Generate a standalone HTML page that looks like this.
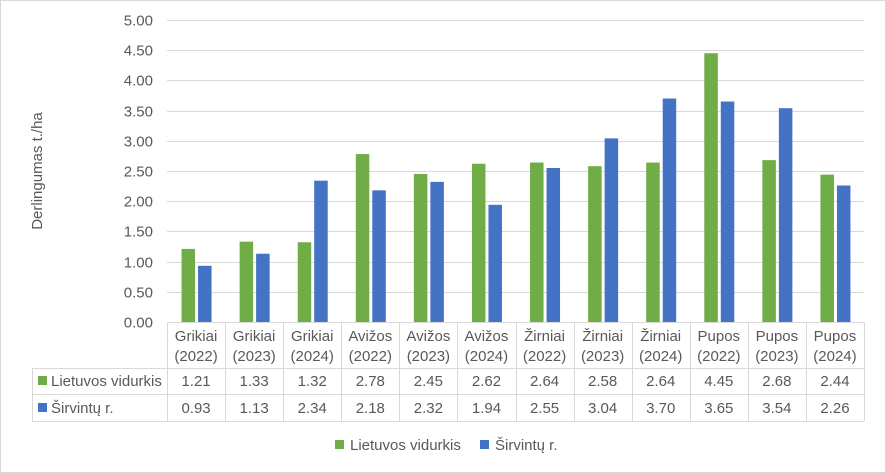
<!DOCTYPE html>
<html><head><meta charset="utf-8"><style>
html,body{margin:0;padding:0;background:#fff}
svg{display:block;font-family:"Liberation Sans",sans-serif}
</style></head><body>
<svg width="886" height="473" viewBox="0 0 886 473" xmlns="http://www.w3.org/2000/svg">
<rect x="0.5" y="0.5" width="885" height="472" fill="#fff" stroke="#d9d9d9"/>
<g id="grid" stroke="#d9d9d9" stroke-width="1"></g>
<g id="bars"></g>
<g id="tbl" stroke="#d9d9d9" stroke-width="1" fill="none"></g>
<g id="txt" fill="#595959" font-size="15"></g>
<text transform="translate(42,171) rotate(-90)" text-anchor="middle" fill="#595959" font-size="15">Derlingumas t./ha</text>
<rect x="335" y="440" width="9" height="9" fill="#70AD47"/>
<text x="350" y="450" fill="#595959" font-size="15">Lietuvos vidurkis</text>
<rect x="480" y="440" width="9" height="9" fill="#4472C4"/>
<text x="495" y="450" fill="#595959" font-size="15">Širvintų r.</text>
</svg>
<script>
const ns="http://www.w3.org/2000/svg";
function el(p,t,a,tx){const e=document.createElementNS(ns,t);for(const k in a)e.setAttribute(k,a[k]);if(tx!==undefined)e.textContent=tx;document.getElementById(p).appendChild(e);}
const y0=322,s=60.4,L=167,R=864,w=(R-L)/12;
for(let i=0;i<=10;i++){const v=i*0.5,y=Math.round(y0-v*s)+0.5;if(i>0)el('grid','line',{x1:L,x2:R,y1:y,y2:y});el('txt','text',{x:153,y:y+5,'text-anchor':'end'},v.toFixed(2));}
const cats=[["Grikiai","2022"],["Grikiai","2023"],["Grikiai","2024"],["Avižos","2022"],["Avižos","2023"],["Avižos","2024"],["Žirniai","2022"],["Žirniai","2023"],["Žirniai","2024"],["Pupos","2022"],["Pupos","2023"],["Pupos","2024"]];
const a=[1.21,1.33,1.32,2.78,2.45,2.62,2.64,2.58,2.64,4.45,2.68,2.44];
const b=[0.93,1.13,2.34,2.18,2.32,1.94,2.55,3.04,3.70,3.65,3.54,2.26];
for(let i=0;i<12;i++){const c=L+(i+0.5)*w;
el('bars','rect',{x:c-14.5,y:y0-a[i]*s,width:13.5,height:a[i]*s,fill:'#70AD47'});
el('bars','rect',{x:c+2,y:y0-b[i]*s,width:13.5,height:b[i]*s,fill:'#4472C4'});
el('txt','text',{x:c,y:341,'text-anchor':'middle'},cats[i][0]);
el('txt','text',{x:c,y:361,'text-anchor':'middle'},'('+cats[i][1]+')');
el('txt','text',{x:c,y:386,'text-anchor':'middle'},a[i].toFixed(2));
el('txt','text',{x:c,y:413,'text-anchor':'middle'},b[i].toFixed(2));}
el('tbl','line',{x1:L,x2:R,y1:322.5,y2:322.5});
[368.5,394.5,421.5].forEach(y=>el('tbl','line',{x1:32,x2:R,y1:y,y2:y}));
for(let i=0;i<=12;i++){const x=Math.round(L+i*w)+0.5;el('tbl','line',{x1:x,x2:x,y1:322,y2:421});}
el('tbl','line',{x1:32.5,x2:32.5,y1:368,y2:421});
el('bars','rect',{x:38,y:376,width:9,height:9,fill:'#70AD47'});
el('bars','rect',{x:38,y:403,width:9,height:9,fill:'#4472C4'});
el('txt','text',{x:51,y:386},'Lietuvos vidurkis');
el('txt','text',{x:51,y:413},'Širvintų r.');
</script>
</body></html>
